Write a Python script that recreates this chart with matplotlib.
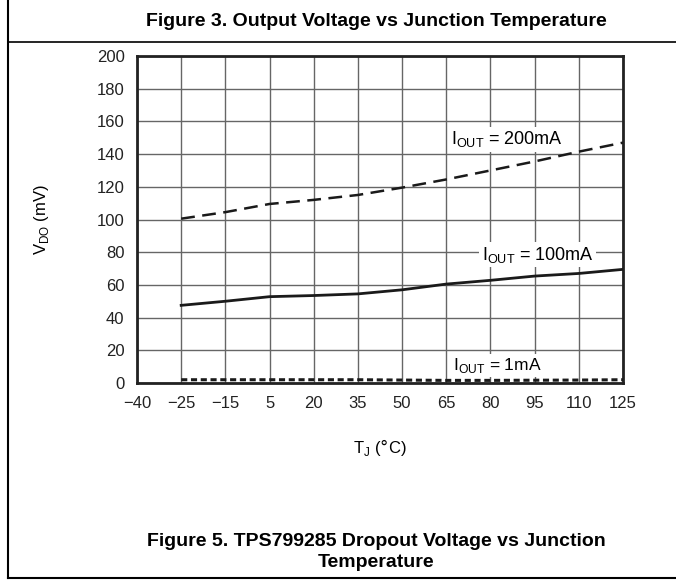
import numpy as np
import matplotlib
matplotlib.use("Agg")
import matplotlib.pyplot as plt
from matplotlib.lines import Line2D

plt.rcParams['font.family'] = ['Liberation Sans', 'DejaVu Sans']

# x axis is categorical: evenly spaced temperature labels
temp_labels = ['\u221240', '\u221225', '\u221215', '5', '20', '35', '50', '65', '80', '95', '110', '125']
temps = [-25, -15, 5, 20, 35, 50, 65, 80, 95, 110, 125]

vdo_200ma = [100.5, 104.5, 109.5, 112, 115, 119.5, 124.5, 130, 135.5, 141.5, 147]
vdo_100ma = [47.5, 50, 52.8, 53.5, 54.5, 57, 60.5, 62.8, 65.4, 67, 69.5]
vdo_1ma = [2, 2, 2, 2, 2, 1.8, 1.6, 1.6, 1.7, 1.8, 2]

yticks = np.arange(0, 201, 20)

fig = plt.figure(figsize=(6.76, 5.82), dpi=100)
ax = fig.add_axes([137/676, 1 - 383/582, (623-137)/676, (383-56)/582])

xpos = [temp_labels.index(str(t).replace('-', '\u2212')) for t in temps]

ax.plot(xpos, vdo_200ma, color='#1a1a1a', lw=1.8, ls=(0, (5.5, 3)), zorder=3)
ax.plot(xpos, vdo_100ma, color='#1a1a1a', lw=2.0, ls='-', zorder=3)
ax.plot(xpos, vdo_1ma, color='#1a1a1a', lw=2.2, ls=(0, (2, 1.2)), zorder=3)

ax.set_xlim(0, len(temp_labels) - 1)
ax.set_ylim(0, 200)
ax.set_xticks(range(len(temp_labels)))
ax.set_xticklabels(temp_labels)
ax.set_yticks(yticks)
ax.tick_params(length=0, labelsize=12, pad=9, colors='#222222')
ax.grid(True, color='#666666', lw=1.0)
ax.set_axisbelow(True)
for s in ax.spines.values():
    s.set_linewidth(2.0)
    s.set_color('#222222')

box = dict(facecolor='white', edgecolor='none', pad=1.5)
ax.text(7.1, 149, r'I$_{\mathregular{OUT}}$ = 200mA', fontsize=13, va='center', ha='left', bbox=box, zorder=4)
ax.text(7.8, 78.5, r'I$_{\mathregular{OUT}}$ = 100mA', fontsize=13, va='center', ha='left', bbox=box, zorder=4)
ax.text(7.15, 10.5, r'I$_{\mathregular{OUT}}$ = 1mA', fontsize=12.5, va='center', ha='left', bbox=box, zorder=4)

ax.set_xlabel(r'T$_{\mathregular{J}}$ ($\degree$C)', fontsize=12, labelpad=19)
ax.set_ylabel(r'V$_{\mathregular{DO}}$ (mV)', fontsize=12, labelpad=33)

fig.text(376/676, 1 - 21/582, 'Figure 3. Output Voltage vs Junction Temperature',
         ha='center', va='center', fontsize=14, fontweight='bold')
fig.text(376/676, 1 - 552/582, 'Figure 5. TPS799285 Dropout Voltage vs Junction\nTemperature',
         ha='center', va='center', fontsize=14, fontweight='bold', linespacing=1.35)

# frame lines
fig.add_artist(Line2D([8/676, 1.0], [1 - 42/582, 1 - 42/582], color='black', lw=1.2))
fig.add_artist(Line2D([8/676, 8/676], [1.0, 1 - 578/582], color='black', lw=1.5))
fig.add_artist(Line2D([8/676, 1.0], [1 - 578/582, 1 - 578/582], color='black', lw=1.5))

fig.savefig('out.png', dpi=100)
